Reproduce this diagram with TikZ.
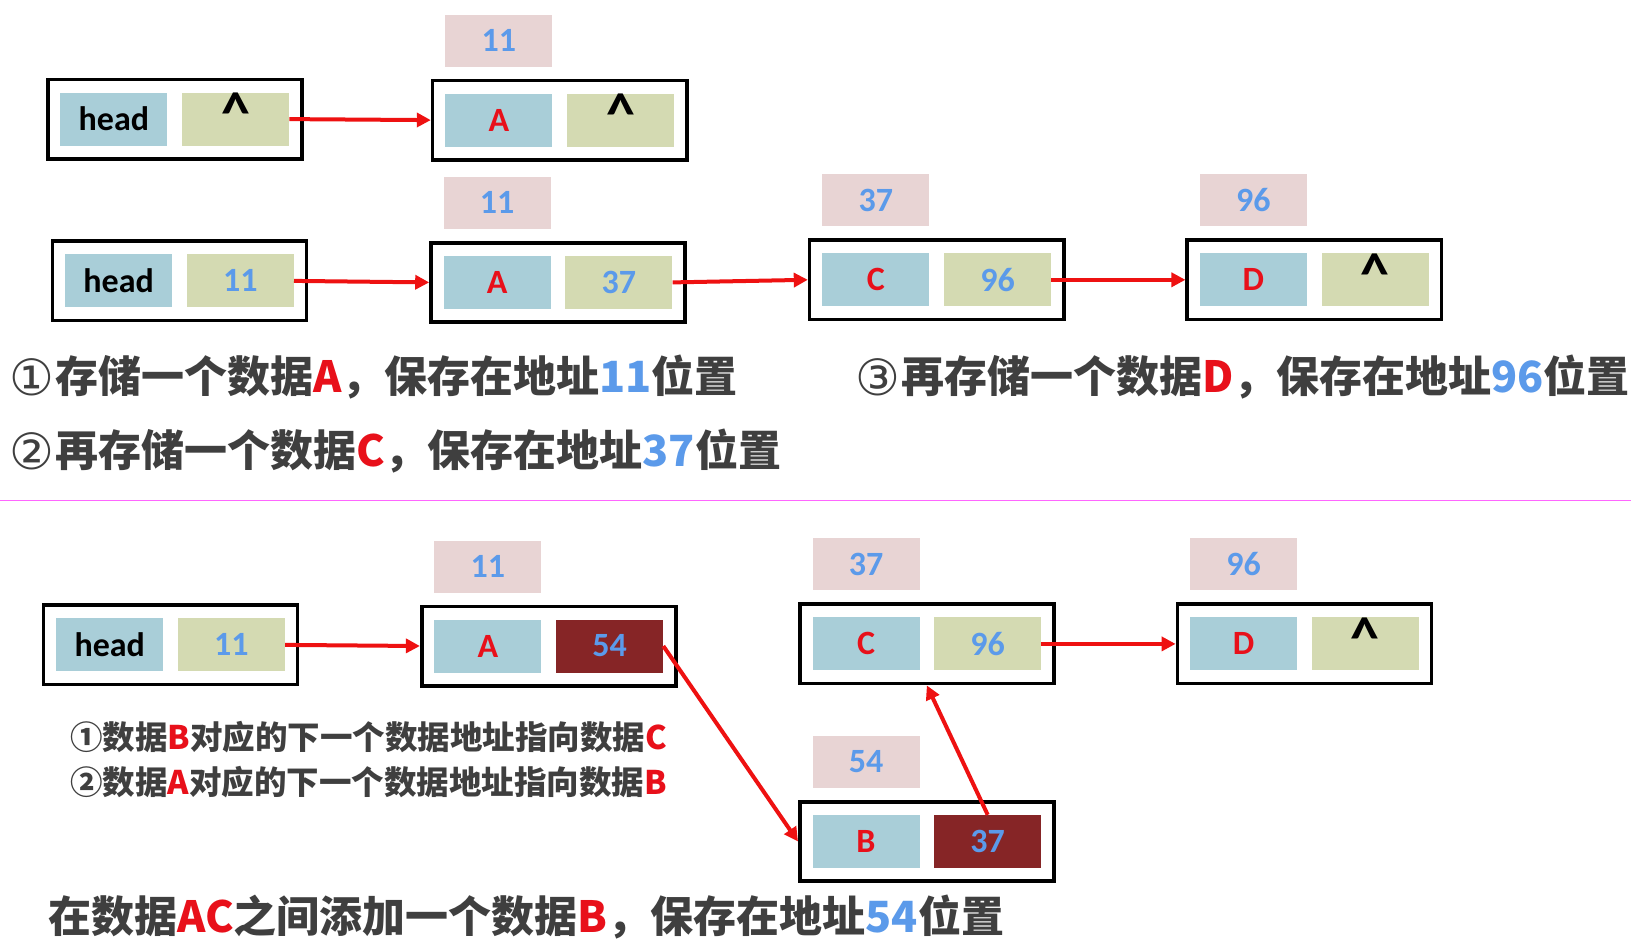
\documentclass[tikz,border=0pt]{standalone}
\usepackage{fontspec}
\usetikzlibrary{arrows.meta,fit}
\newfontfamily\cjk{Noto Sans CJK SC}
\newfontfamily\lat{Carlito}
\newfontfamily\dvs{DejaVu Sans}
\definecolor{cblue}{HTML}{A9CED8}
\definecolor{cgreen}{HTML}{D4DAB2}
\definecolor{cpink}{HTML}{E8D4D4}
\definecolor{cdark}{HTML}{862526}
\definecolor{tblue}{HTML}{5B9AEA}
\definecolor{tred}{HTML}{E8101A}
\definecolor{tgray}{HTML}{3F3F3F}
\definecolor{ared}{HTML}{EE1111}
\definecolor{mag}{HTML}{FF66FF}
\tikzset{
  cellbase/.style={minimum width=107pt, minimum height=53pt, inner sep=0pt,
    font=\lat\bfseries\fontsize{34}{34}\selectfont},
  lcell/.style={cellbase, fill=cblue, text=tred},
  gcell/.style={cellbase, fill=cgreen, text=tblue},
  dcell/.style={cellbase, fill=cdark, text=tblue},
  ncell/.style={cellbase, fill=cgreen, text=black,
    font=\lat\bfseries\fontsize{58}{58}\selectfont},
  lab/.style={cellbase, fill=cpink, text=tblue, minimum height=52pt},
  outer/.style={draw=black, line width=3.6pt, inner xsep=12.5pt, inner ysep=13pt},
  arr/.style={draw=ared, line width=4pt, -{Triangle[length=14pt,width=14pt]}},
  txt/.style={inner sep=0pt, anchor=west, text=tgray,
    font=\cjk\bfseries\fontsize{43}{43}\selectfont},
  stxt/.style={txt, font=\cjk\bfseries\fontsize{32.5}{32.5}\selectfont},
}
\newcommand\listnode[6]{%
  \node[lcell] (#1l) at (#2,#3) {#4};
  \node[#5] (#1r) at ({#2+121.7},#3) {#6};
  \node[outer, fit=(#1l)(#1r)] (#1) {};
}
\newcommand\addrlabel[4]{\node[lab] (#1) at (#2,{#3-79.5}) {#4};}
\newcommand\nil{\raisebox{12pt}{\textasciicircum}}
\newcommand\circd[1]{\raisebox{-3pt}{\dvs\mdseries\fontsize{50}{50}\selectfont #1}\hspace{1pt}}
\begin{document}
\begin{tikzpicture}[x=1pt,y=-1pt]
\useasboundingbox[fill=white] (0,0) rectangle (1631,946);
% row 1
\listnode{H1}{113.9}{119.1}{\textcolor{black}{head}}{ncell}{\nil}
\listnode{A1}{498.8}{120.1}{A}{ncell}{\nil}
\addrlabel{A1lab}{498.8}{120.1}{11}
\draw[arr] (H1r.east) -- (A1.west);
% row 2
\listnode{H2}{118.6}{280.9}{\textcolor{black}{head}}{gcell}{11}
\listnode{A2}{497.2}{282.4}{A}{gcell}{37}
\listnode{C2}{875.8}{279.8}{C}{gcell}{96}
\listnode{D2}{1253.4}{279.8}{D}{ncell}{\nil}
\addrlabel{A2lab}{497.2}{282.4}{11}
\addrlabel{C2lab}{875.8}{279.8}{37}
\addrlabel{D2lab}{1253.4}{279.8}{96}
\draw[arr] (H2r.east) -- (A2.west);
\draw[arr] (A2r.east) -- (C2.west);
\draw[arr] (C2r.east) -- (D2.west);
% texts
\node[txt] (t1) at (9,376.6) {\circd{①}存储一个数据\textcolor{tred}{A}，保存在地址\textcolor{tblue}{11}位置};
\node[txt] (t2) at (9,451.4) {\circd{②}再存储一个数据\textcolor{tred}{C}，保存在地址\textcolor{tblue}{37}位置};
\node[txt] (t3) at (855,376.6) {\circd{③}再存储一个数据\textcolor{tred}{D}，保存在地址\textcolor{tblue}{96}位置};
% separator
\draw[mag, line width=1.2pt] (0,500.3) -- (1631,500.3);
% row 3
\listnode{H3}{109.7}{644.9}{\textcolor{black}{head}}{gcell}{11}
\listnode{A3}{487.9}{646}{A}{dcell}{54}
\listnode{C3}{866}{643.9}{C}{gcell}{96}
\listnode{D3}{1243.6}{643.9}{D}{ncell}{\nil}
\listnode{B3}{866}{841.5}{B}{dcell}{37}
\addrlabel{A3lab}{487.9}{646}{11}
\addrlabel{C3lab}{866}{643.9}{37}
\addrlabel{D3lab}{1243.6}{643.9}{96}
\addrlabel{B3lab}{866}{841.5}{54}
\draw[arr] (H3r.east) -- (A3.west);
\draw[arr] (C3r.east) -- (D3.west);
\draw[arr] (A3r.east) -- (B3.west);
\draw[arr] (B3r.north) -- (C3.south);
\node[stxt] (s1) at (70,737.5) {①数据\textcolor{tred}{B}对应的下一个数据地址指向数据\textcolor{tred}{C}};
\node[stxt] (s2) at (70,782.2) {②数据\textcolor{tred}{A}对应的下一个数据地址指向数据\textcolor{tred}{B}};
\node[txt] (s3) at (48,917.5) {在数据\textcolor{tred}{AC}之间添加一个数据\textcolor{tred}{B}，保存在地址\textcolor{tblue}{54}位置};
\end{tikzpicture}
\end{document}
